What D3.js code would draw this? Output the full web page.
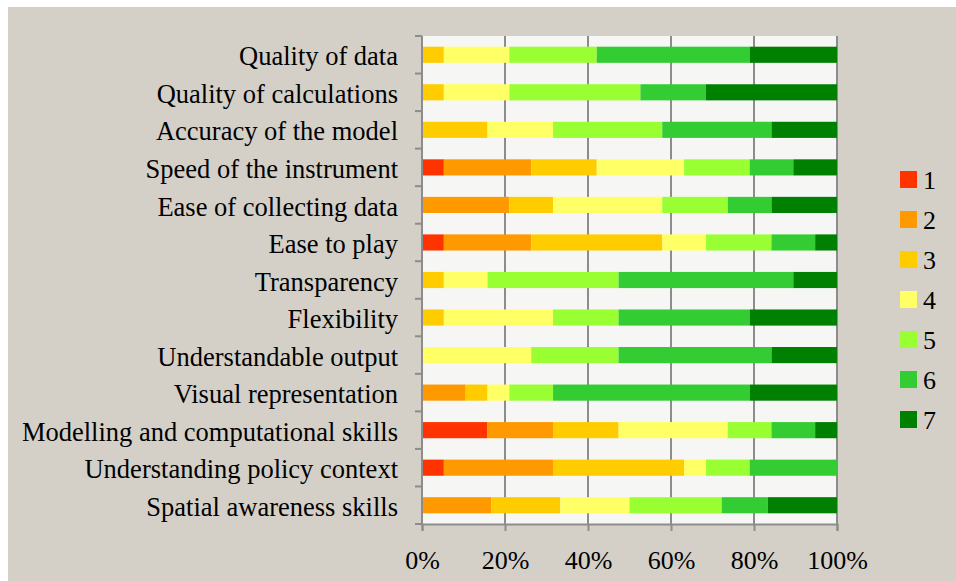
<!DOCTYPE html>
<html>
<head>
<meta charset="utf-8">
<script src="https://cdn.jsdelivr.net/npm/d3@7"></script>
<style>
  body { margin: 0; background: #fff; }
  svg { display: block; }
  text { font-family: "Liberation Serif", "Times New Roman", serif; fill: #000; }
</style>
</head>
<body>
<div id="chart"></div>
<script>
// categories, top to bottom
const categories = [
  'Quality of data', 'Quality of calculations', 'Accuracy of the model',
  'Speed of the instrument', 'Ease of collecting data', 'Ease to play',
  'Transparency', 'Flexibility', 'Understandable output',
  'Visual representation', 'Modelling and computational skills',
  'Understanding policy context', 'Spatial awareness skills'
];
const scores = ['1', '2', '3', '4', '5', '6', '7'];

// number of answers per score, same order as categories
const score1 = [0, 0, 0, 1, 0, 1, 0, 0, 0, 0, 3, 1, 0];
const score2 = [0, 0, 0, 4, 4, 4, 0, 0, 0, 2, 3, 5, 3];
const score3 = [1, 1, 3, 3, 2, 6, 1, 1, 0, 1, 3, 6, 3];
const score4 = [3, 3, 3, 4, 5, 2, 2, 5, 5, 1, 5, 1, 3];
const score5 = [4, 6, 5, 3, 3, 3, 6, 3, 4, 2, 2, 2, 4];
const score6 = [7, 3, 5, 2, 2, 2, 8, 6, 7, 9, 2, 4, 2];
const score7 = [4, 6, 3, 2, 3, 1, 2, 4, 3, 4, 1, 0, 3];

const xTicks = [0, 0.2, 0.4, 0.6, 0.8, 1];
const colors = ['#ff3300', '#ff9900', '#ffcc00', '#ffff66', '#99ff33', '#33cc33', '#008000'];

const series = [score1, score2, score3, score4, score5, score6, score7];
const rows = categories.map((c, i) => {
  const r = { name: c };
  scores.forEach((s, j) => r[s] = series[j][i]);
  return r;
});

const W = 956, H = 581;
const margin = { left: 422, right: 119, top: 36, bottom: 57 };
const fontSize = '26px';

const svg = d3.select('#chart').append('svg')
  .attr('width', W)
  .attr('height', H);

// grey frame background
svg.append('rect')
  .attr('x', 8).attr('y', 7)
  .attr('width', W - 8).attr('height', H - 7)
  .attr('fill', '#d4d0c8');

const x = d3.scaleLinear()
  .domain([0, 1])
  .range([margin.left, W - margin.right]);

const y = d3.scaleBand()
  .domain(categories)
  .range([margin.top, H - margin.bottom])
  .paddingInner(0.57)
  .paddingOuter(0.285);

const yOuter = d3.scaleBand()
  .domain(categories)
  .range([margin.top, H - margin.bottom]);

// plot area
svg.append('rect')
  .attr('x', x(0)).attr('y', margin.top)
  .attr('width', x(1) - x(0)).attr('height', H - margin.bottom - margin.top)
  .attr('fill', '#f6f6f4');

// vertical grid
svg.append('g')
  .selectAll('line')
  .data(xTicks.slice(1))
  .join('line')
  .attr('x1', d => x(d)).attr('x2', d => x(d))
  .attr('y1', margin.top).attr('y2', H - margin.bottom)
  .attr('stroke', '#8c8c8c')
  .attr('stroke-width', 2);

const stack = d3.stack()
  .keys(scores)
  .offset(d3.stackOffsetExpand);

svg.append('g')
  .selectAll('g')
  .data(stack(rows))
  .join('g')
  .attr('fill', (d, i) => colors[i])
  .selectAll('rect')
  .data(d => d)
  .join('rect')
  .attr('x', d => x(d[0]))
  .attr('y', d => y(d.data.name))
  .attr('width', d => x(d[1]) - x(d[0]))
  .attr('height', y.bandwidth());

// y axis: line, ticks at band edges, labels
const yAxis = svg.append('g');
yAxis.append('line')
  .attr('x1', x(0)).attr('x2', x(0))
  .attr('y1', margin.top).attr('y2', H - margin.bottom)
  .attr('stroke', '#8c8c8c').attr('stroke-width', 2);
yAxis.selectAll('.ytick')
  .data(categories)
  .join('line')
  .attr('class', 'ytick')
  .attr('x1', x(0) - 7).attr('x2', x(0))
  .attr('y1', d => yOuter(d)).attr('y2', d => yOuter(d))
  .attr('stroke', '#8c8c8c').attr('stroke-width', 2);
yAxis.append('line')
  .attr('x1', x(0) - 7).attr('x2', x(0))
  .attr('y1', H - margin.bottom).attr('y2', H - margin.bottom)
  .attr('stroke', '#8c8c8c').attr('stroke-width', 2);
yAxis.selectAll('text')
  .data(categories)
  .join('text')
  .attr('x', 398)
  .attr('y', d => yOuter(d) + yOuter.bandwidth() / 2)
  .attr('dy', '0.4em')
  .attr('text-anchor', 'end')
  .style('font-size', '26.5px')
  .text(d => d);

// x axis
const xAxis = svg.append('g')
  .attr('transform', `translate(0,${H - margin.bottom})`)
  .call(d3.axisBottom(x).tickValues(xTicks).tickFormat(d3.format('.0%')).tickSizeOuter(0).tickSize(7).tickPadding(20));
xAxis.select('.domain').attr('stroke', '#8c8c8c').attr('stroke-width', 2);
xAxis.selectAll('.tick line').attr('stroke', '#8c8c8c').attr('stroke-width', 2);
xAxis.selectAll('.tick text')
  .style('font-size', fontSize)
  .style('font-family', '"Liberation Serif", "Times New Roman", serif')
  .attr('fill', '#000');

// legend
const legend = svg.append('g')
  .selectAll('g')
  .data(scores)
  .join('g')
  .attr('transform', (d, i) => `translate(900,${171 + i * 40})`);
legend.append('rect')
  .attr('width', 17).attr('height', 17)
  .attr('fill', (d, i) => colors[i]);
legend.append('text')
  .attr('x', 23).attr('y', 8.5)
  .attr('dy', '0.36em')
  .style('font-size', fontSize)
  .text(d => d);
</script>
</body>
</html>
